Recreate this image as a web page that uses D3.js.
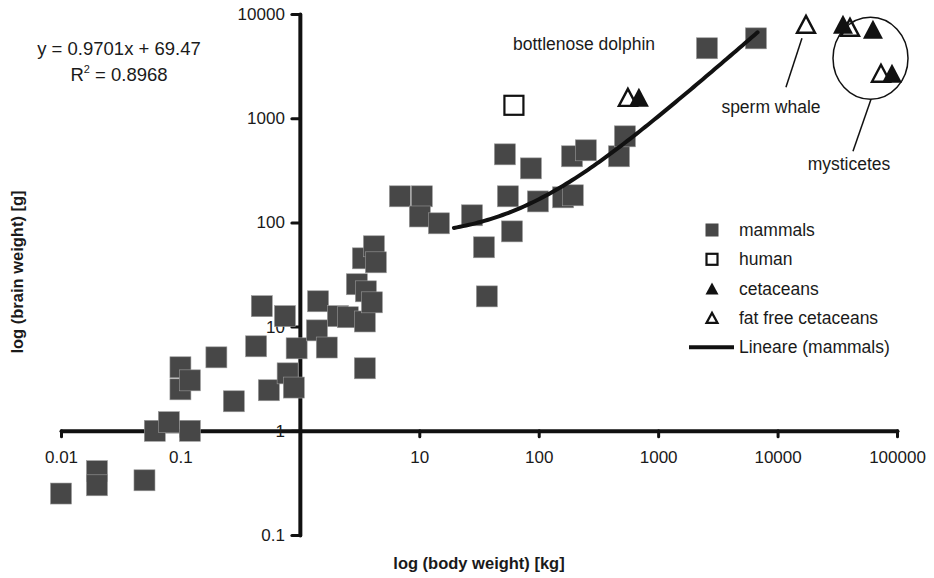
<!DOCTYPE html>
<meta charset="utf-8">
<head>
<style>
body { margin: 0; background: #fff; }
svg text { font-family: 'Liberation Sans', Arial, sans-serif; fill: #1a1a1a; }
.axis path, .axis line { stroke: #111; }
.axis .domain { stroke-width: 4; }
.axis .tick line { stroke-width: 3; stroke-linecap: round; }
.axis .tick text { font-size: 17px; }
.title { font-size: 16.5px; font-weight: bold; }
.note { font-size: 17.5px; }
</style>
</head>
<svg width="934" height="578"></svg>
<script src="https://d3js.org/d3.v7.min.js"></script>
<script>

// body weight [kg] / brain weight [g]
const mammalsBody = [0.01, 0.02, 0.02, 0.05, 0.061, 0.08, 0.12, 0.1, 0.1, 0.12,
    0.2, 0.28, 0.43, 0.48, 0.75, 0.55, 0.79, 0.89, 0.94, 1.42,
    1.39, 1.68, 2.08, 2.52, 3.5, 3.5, 3.0, 3.57, 4.01, 3.37,
    4.17, 4.33, 6.88, 10.5, 10.1, 14.6, 27.6, 34.8, 36.8, 52.1,
    55.2, 59.7, 86, 98.5, 160, 193, 190, 248, 470, 527,
    2564, 6590];
const mammalsBrain = [0.25, 0.41, 0.30, 0.335, 1.0, 1.21, 1.0, 4.07, 2.5, 3.05,
    5.07, 1.92, 6.47, 15.7, 12.6, 2.45, 3.56, 2.6, 6.19, 17.5,
    9.2, 6.3, 12.6, 12.3, 11.2, 3.98, 25.5, 21.8, 17.1, 45.2,
    59, 41.4, 178, 178, 114, 98, 117, 57.7, 19.5, 450,
    178, 82, 330, 159, 174, 182, 431, 492, 431, 670,
    4690, 5840];

const humanBody = [62];
const humanBrain = [1330];

const cetaceansBody = [690, 35300, 62900, 90800];
const cetaceansBrain = [1585, 7960, 7130, 2700];

const fatFreeBody = [558, 17300, 40400, 73400];
const fatFreeBrain = [1585, 7960, 7450, 2700];

const xTicks = [0.01, 0.1, 10, 100, 1000, 10000, 100000];
const yTicks = [0.1, 1, 10, 100, 1000, 10000];

// trend line shown in the chart
const slope = 0.9701, intercept = 69.47, rSquared = 0.8968;
const trendFrom = 19.5, trendTo = 6800;

const legendItems = ['mammals', 'human', 'cetaceans', 'fat free cetaceans', 'Lineare (mammals)'];

const svg = d3.select('svg');

const x = d3.scaleLog().domain([0.01, 100000]).range([61, 897]);
const y = d3.scaleLog().domain([0.1, 10000]).range([535, 14]);
const fmt = d3.format('~g');

// axes cross at (1, 1)
svg.append('g')
    .attr('class', 'axis')
    .attr('transform', `translate(0,${y(1)})`)
    .call(d3.axisBottom(x).tickValues(xTicks).tickSize(6).tickSizeOuter(0).tickPadding(14).tickFormat(fmt));

svg.append('g')
    .attr('class', 'axis')
    .attr('transform', `translate(${x(1)},0)`)
    .call(d3.axisLeft(y).tickValues(yTicks).tickSize(8).tickSizeOuter(0).tickPadding(7).tickFormat(fmt));

svg.selectAll('.axis .domain').attr('stroke-linecap', 'round');

svg.append('text')
    .attr('class', 'title')
    .attr('x', 479).attr('y', 569)
    .attr('text-anchor', 'middle')
    .text('log (body weight) [kg]');

svg.append('text')
    .attr('class', 'title')
    .attr('transform', 'translate(23,272) rotate(-90)')
    .attr('text-anchor', 'middle')
    .text('log (brain weight) [g]');

// markers
const sq = 21;
const tri = (w, h) => `M0,${-h / 2}L${w / 2},${h / 2}L${-w / 2},${h / 2}Z`;

svg.append('g')
    .selectAll('rect')
    .data(d3.zip(mammalsBody, mammalsBrain))
    .enter()
    .append('rect')
    .attr('x', d => x(d[0]) - sq / 2)
    .attr('y', d => y(d[1]) - sq / 2)
    .attr('width', sq)
    .attr('height', sq)
    .attr('fill', '#474747')
    .attr('stroke', '#9a9a9a')
    .attr('stroke-width', 0.6);

svg.append('g')
    .selectAll('rect')
    .data(d3.zip(humanBody, humanBrain))
    .enter()
    .append('rect')
    .attr('x', d => x(d[0]) - 9.5)
    .attr('y', d => y(d[1]) - 9.5)
    .attr('width', 19)
    .attr('height', 19)
    .attr('fill', '#fff')
    .attr('stroke', '#111')
    .attr('stroke-width', 2.2);

svg.append('g')
    .selectAll('path')
    .data(d3.zip(fatFreeBody, fatFreeBrain))
    .enter()
    .append('path')
    .attr('transform', d => `translate(${x(d[0])},${y(d[1])})`)
    .attr('d', tri(18, 17))
    .attr('fill', '#fff')
    .attr('stroke', '#111')
    .attr('stroke-width', 2.4)
    .attr('stroke-linejoin', 'miter');

svg.append('g')
    .selectAll('path')
    .data(d3.zip(cetaceansBody, cetaceansBrain))
    .enter()
    .append('path')
    .attr('transform', d => `translate(${x(d[0])},${y(d[1])})`)
    .attr('d', tri(20, 19))
    .attr('fill', '#111');

// trend line y = slope * x + intercept, drawn on the log axes
const steps = d3.range(0, 101).map(i => trendFrom * Math.pow(trendTo / trendFrom, i / 100));
svg.append('path')
    .datum(steps)
    .attr('fill', 'none')
    .attr('stroke', '#111')
    .attr('stroke-width', 4)
    .attr('stroke-linecap', 'round')
    .attr('d', d3.line().x(d => x(d)).y(d => y(slope * d + intercept)));

// equation
const eq = svg.append('text').attr('text-anchor', 'middle').style('font-size', '18.5px');
eq.append('tspan').attr('x', 119).attr('y', 55).text(`y = ${slope}x + ${intercept}`);
const r2 = eq.append('tspan').attr('x', 119).attr('y', 81);
r2.append('tspan').text('R');
r2.append('tspan').attr('dy', -8).style('font-size', '11px').text('2');
r2.append('tspan').attr('dy', 8).text(` = ${rSquared}`);

// annotations
svg.append('text').attr('class', 'note').attr('x', 513).attr('y', 50).text('bottlenose dolphin');
svg.append('text').attr('class', 'note').attr('x', 771).attr('y', 113).attr('text-anchor', 'middle').text('sperm whale');
svg.append('text').attr('class', 'note').attr('x', 849).attr('y', 170).attr('text-anchor', 'middle').text('mysticetes');

svg.append('line')
    .attr('x1', x(16000)).attr('y1', y(5840))
    .attr('x2', x(11750)).attr('y2', y(1980))
    .attr('stroke', '#111').attr('stroke-width', 1.5);
svg.append('line')
    .attr('x1', x(60600)).attr('y1', y(1518))
    .attr('x2', x(42800)).attr('y2', y(481))
    .attr('stroke', '#111').attr('stroke-width', 1.5);
svg.append('ellipse')
    .attr('cx', x(60000)).attr('cy', y(3758))
    .attr('rx', 37.5).attr('ry', 41)
    .attr('fill', 'none')
    .attr('stroke', '#111')
    .attr('stroke-width', 1.5);

// legend
const legend = svg.append('g').attr('transform', 'translate(712,230)');
const row = 29.3;
legend.selectAll('text')
    .data(legendItems)
    .enter()
    .append('text')
    .attr('class', 'note')
    .attr('x', 27)
    .attr('y', (d, i) => i * row)
    .attr('dy', '0.35em')
    .text(d => d);

legend.append('rect').attr('x', -6.5).attr('y', -6.5).attr('width', 13).attr('height', 13).attr('fill', '#474747');
legend.append('rect').attr('x', -5.5).attr('y', row - 5.5).attr('width', 11).attr('height', 11)
    .attr('fill', '#fff').attr('stroke', '#111').attr('stroke-width', 2.2);
legend.append('path').attr('transform', `translate(0,${row * 2})`).attr('d', tri(13, 12)).attr('fill', '#111');
legend.append('path').attr('transform', `translate(0,${row * 3})`).attr('d', tri(11, 10))
    .attr('fill', '#fff').attr('stroke', '#111').attr('stroke-width', 2.2);
legend.append('line').attr('x1', -23).attr('x2', 22).attr('y1', row * 4).attr('y2', row * 4)
    .attr('stroke', '#111').attr('stroke-width', 4);

</script>
